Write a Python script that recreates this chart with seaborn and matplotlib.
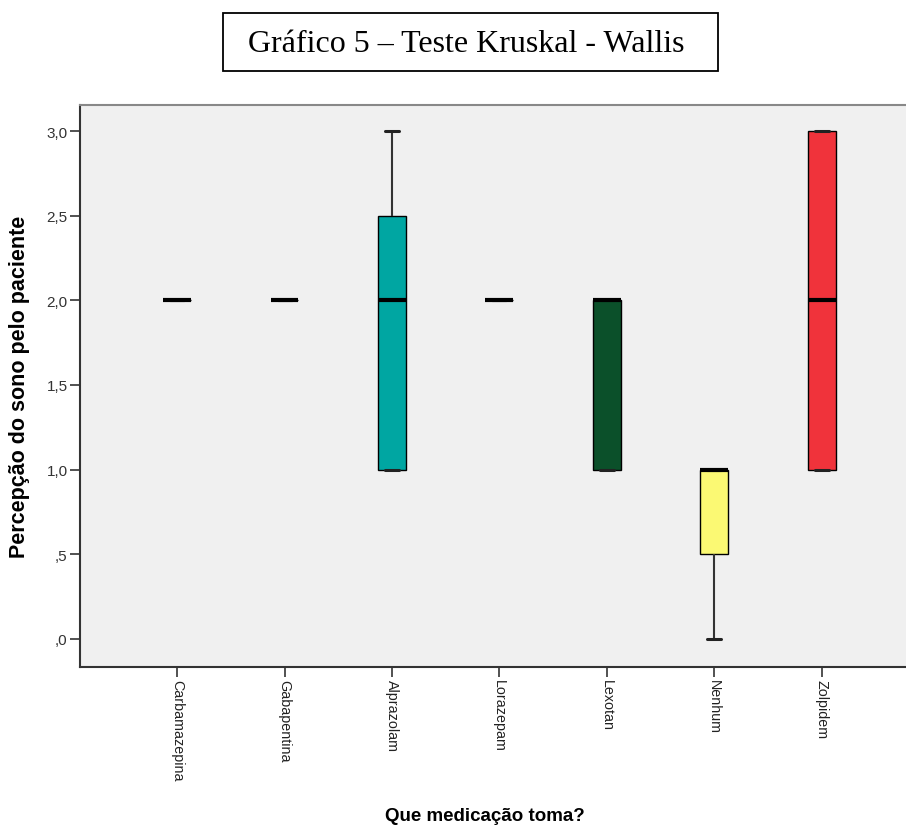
import pandas as pd
import numpy as np
import matplotlib.pyplot as plt
import seaborn as sns
from matplotlib.patches import Rectangle

medications = ["Carbamazepina", "Gabapentina", "Alprazolam", "Lorazepam",
               "Lexotan", "Nenhum", "Zolpidem"]

# raw scores per group (0-3 scale), read from the box stats
carbamazepina = [2]
gabapentina = [2]
alprazolam = [1, 1, 1, 2, 2, 3, 3]
lorazepam = [2]
lexotan = [1, 1, 2, 2, 2]
nenhum = [0, 1, 1]
zolpidem = [1, 1, 2, 3, 3]

box_colors = ["#6f8fc9", "#7fbf6a", "#00a6a2", "#b08fc7", "#0b502a", "#fbf973", "#f0333b"]

ytick_values = [0.0, 0.5, 1.0, 1.5, 2.0, 2.5, 3.0]
ytick_labels = [",0", ",5", "1,0", "1,5", "2,0", "2,5", "3,0"]

groups = [carbamazepina, gabapentina, alprazolam, lorazepam, lexotan, nenhum, zolpidem]
df = pd.DataFrame({
    "med": [m for m, g in zip(medications, groups) for _ in g],
    "score": [v for g in groups for v in g],
})

sns.set_style("white")
plt.rcParams['font.family'] = ['Liberation Sans', 'DejaVu Sans']

fig = plt.figure(figsize=(9.06, 8.29), dpi=100)
ax = fig.add_axes([80 / 906, 1 - 668 / 829, 1 - 80 / 906 + 0.01, (668 - 106) / 829])
ax.set_facecolor("#f0f0f0")

sns.boxplot(data=df, x="med", y="score", order=medications, hue="med",
            hue_order=medications, palette=box_colors, legend=False, saturation=1,
            width=0.26, whis=1.5, ax=ax, linewidth=1.0, linecolor="black",
            boxprops=dict(edgecolor="black", linewidth=1.0),
            whiskerprops=dict(color="#333333", linewidth=1.5),
            capprops=dict(color="#222222", linewidth=2.2),
            medianprops=dict(color="black", linewidth=3.0),
            showfliers=False)

ax.set_xlim(-0.904, 6.87)
ax.set_ylim(-0.166, 3.154)
ax.set_yticks(ytick_values)
ax.set_yticklabels(ytick_labels, fontsize=11, color="#333333")
ax.set_xticks(range(len(medications)))
ax.set_xticklabels(medications, rotation=270, fontsize=10.3, color="#222222", va="top")

ax.tick_params(axis="both", which="both", length=7, width=1.2, color="#333333",
               direction="out", bottom=True, left=True, pad=2)

for side in ["left", "bottom"]:
    ax.spines[side].set_color("#333333")
    ax.spines[side].set_linewidth(1.5)
ax.spines["top"].set_color("#888888")
ax.spines["top"].set_linewidth(1.5)
ax.spines["right"].set_visible(False)

ax.set_ylabel("Percepção do sono pelo paciente", fontsize=15.5, fontweight="bold",
              color="black")
ax.yaxis.set_label_coords(-0.06, 0.5)
ax.set_xlabel("Que medicação toma?", fontsize=13.5, fontweight="bold", color="black")
ax.xaxis.set_label_coords(0.485, -0.249)

# title in a framed box above the chart
fig.patches.append(Rectangle((223 / 906, 1 - 72 / 829), (718 - 223) / 906, (72 - 14) / 829,
                             transform=fig.transFigure, facecolor="white",
                             edgecolor="black", linewidth=1.3))
fig.text(466 / 906, 1 - 44 / 829, "Gráfico 5 – Teste Kruskal - Wallis",
         family=["Liberation Serif", "DejaVu Serif"], fontsize=23, color="black",
         ha="center", va="center")

fig.savefig("out.png", dpi=100)
